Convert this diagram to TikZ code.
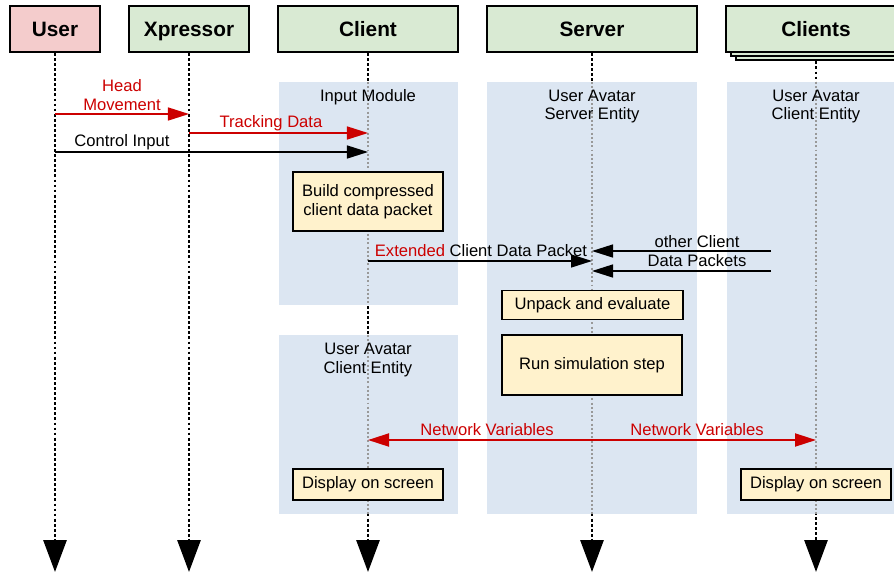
\documentclass[tikz,border=0pt]{standalone}
\usepackage{fontspec}
\setmainfont{Liberation Sans}
\usetikzlibrary{arrows.meta}
\definecolor{usrpink}{HTML}{F4CCCC}
\definecolor{lifegreen}{HTML}{D9EAD3}
\definecolor{areablue}{HTML}{DCE6F2}
\definecolor{notepaper}{HTML}{FFF2CC}
\definecolor{msgred}{HTML}{CC0000}

\begin{document}
\begin{tikzpicture}[x=0.025cm,y=-0.025cm,
    head/.style={draw,line width=1.4pt,fill=lifegreen,minimum height=1.15cm,text height=10.6pt,text depth=0pt,font=\fontsize{14.8}{17}\selectfont\bfseries},
    txt/.style={font=\fontsize{11.8}{13.2}\selectfont,align=center,inner sep=0pt},
    note/.style={draw,line width=1pt,fill=notepaper,txt},
    life/.style={line width=2.1pt,dash pattern=on 2pt off 1.6pt,-{Triangle[length=0.8cm,width=0.575cm]}},
    msg/.style={line width=1pt,-{Triangle[length=0.525cm,width=0.325cm]}}]
    \useasboundingbox (0,0) rectangle (894,574);
    % stacked copies behind the Clients head
    \foreach \d in {10,5}
    \draw[line width=1.4pt,fill=lifegreen] (726+\d,6+0.8*\d) rectangle ++(180,46);
    \node[head,fill=usrpink,minimum width=2.25cm] (user) at (55,29) {User};
    \node[head,minimum width=3cm] (xpr) at (189,29) {Xpressor};
    \node[head,minimum width=4.475cm] (cli) at (368,29) {Client};
    \node[head,minimum width=5.25cm] (srv) at (592,29) {Server};
    \node[head,minimum width=4.5cm] (clis) at (816,29) {Clients};
    \foreach \n/\s in {user/0,xpr/0,cli/0,srv/0,clis/6}
    \draw[life] ([yshift=-\s pt]\n.south) -- (\n |- 0,572);
    % activity areas
    \foreach \l/\a/\r/\b in {279/82/458/305,279/335/458/514,487/82/697/514,727/82/900/514}
    \fill[areablue] (\l,\a) rectangle (\r,\b);
    \foreach \n/\a/\b in {cli/82/305,cli/335/514,srv/82/514,clis/82/514}
    \draw[gray!80,line width=1.4pt,dash pattern=on 1.4pt off 1.6pt] (\n |- 0,\a) -- (\n |- 0,\b);
    \node[txt] (inmod) at (368,97) {Input Module};
    \node[txt] (srvent) at (592,106.5) {User Avatar\\Server Entity};
    \node[txt] (clisent) at (816,106.5) {User Avatar\\Client Entity};
    \node[txt] (cliavt) at (368,360) {User Avatar\\Client Entity};
    % messages
    \draw[msg,msgred] (user |- 0,114) -- (xpr |- 0,114);
    \node[txt,msgred] (hm) at (122,95) {Head\\Movement};
    \draw[msg,msgred] (xpr |- 0,133) -- (cli |- 0,133);
    \node[txt,msgred] (td) at (271,123) {Tracking Data};
    \draw[msg] (user |- 0,152) -- (cli |- 0,152);
    \node[txt] (ci) at (122,142) {Control Input};
    \node[note,minimum width=3.75cm,minimum height=1.475cm] (build) at (368,201.5) {Build compressed\\client data packet};
    \draw[msg] (cli |- 0,261) -- (srv |- 0,261);
    \node[txt] (ecdp) at (481,251) {\textcolor{msgred}{Extended} Client Data Packet};
    \coordinate (othA) at (771,251);
    \coordinate (othB) at (771,271);
    \draw[msg] (othA) -- (srv |- othA);
    \draw[msg] (othB) -- (srv |- othB);
    \node[txt] (oc) at (697,242) {other Client};
    \node[txt] (dp) at (697,261) {Data Packets};
    \node[note,minimum width=4.525cm,minimum height=0.725cm] (unpack) at (592.5,305) {Unpack and evaluate};
    \node[note,minimum width=4.5cm,minimum height=1.5cm] (sim) at (592,365) {Run simulation step};
    \draw[msgred,line width=1.4pt,{Triangle[length=0.525cm,width=0.325cm]}-{Triangle[length=0.525cm,width=0.325cm]}] (cli |- 0,440) -- (clis |- 0,440);
    \node[txt,msgred] (nv1) at (487,430) {Network Variables};
    \node[txt,msgred] (nv2) at (697,430) {Network Variables};
    \node[note,minimum width=3.75cm,minimum height=0.775cm] (dispA) at (368,484.5) {Display on screen};
    \node[note,minimum width=3.75cm,minimum height=0.775cm] (dispB) at (816,484.5) {Display on screen};
\end{tikzpicture}
\end{document}
